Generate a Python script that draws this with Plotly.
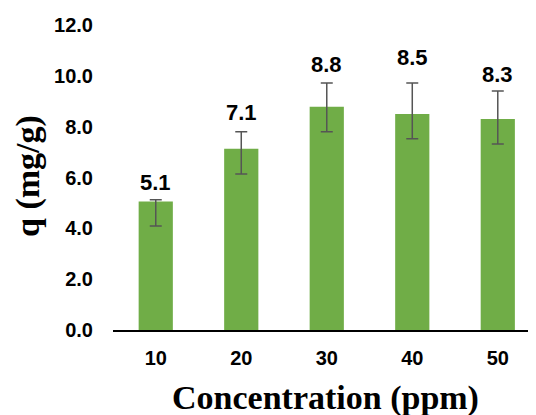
import plotly.graph_objects as go

categories = ["10", "20", "30", "40", "50"]
q_values = [5.06, 7.13, 8.78, 8.5, 8.3]
err_plus = [0.06, 0.67, 0.94, 1.22, 1.1]
err_minus = [0.97, 0.99, 0.98, 0.98, 0.98]
y_ticks = [0, 2, 4, 6, 8, 10, 12]
y_tick_labels = [f"{t:.1f}" for t in y_ticks]
label_shift = [17, 19, 18, 25, 17]

fig = go.Figure()
fig.add_trace(go.Bar(
    x=categories, y=q_values, width=0.4,
    marker=dict(color="#70AD47", line=dict(width=0)),
    error_y=dict(type="data", symmetric=False, array=err_plus, arrayminus=err_minus,
                 color="#555555", thickness=1.5, width=6),
    hoverinfo="skip",
))

for i, (v, ep) in enumerate(zip(q_values, err_plus)):
    fig.add_annotation(x=i, y=v + ep, xref="x", yref="y", text=f"<b>{v:.1f}</b>",
                       showarrow=False, yanchor="middle", yshift=label_shift[i],
                       font=dict(family="Liberation Sans", size=22, color="#000000"))

fig.add_annotation(x=0.5035, y=-0.223, xref="paper", yref="paper",
                   text="<b>Concentration (ppm)</b>", showarrow=False,
                   xanchor="center", yanchor="middle",
                   font=dict(family="Liberation Serif", size=34, color="#000000"))
fig.add_annotation(x=-0.201, y=0.505, xref="paper", yref="paper",
                   text="<b>q (mg/g)</b>", showarrow=False, textangle=-90,
                   xanchor="center", yanchor="middle",
                   font=dict(family="Liberation Serif", size=34, color="#000000"))

fig.update_layout(
    width=528, height=407,
    margin=dict(l=105, r=0, t=17, b=85, autoexpand=False),
    paper_bgcolor="white", plot_bgcolor="white",
    showlegend=False,
    font=dict(family="Liberation Sans", color="#000000"),
)
fig.update_xaxes(
    type="category", range=[-0.5, 4.447], automargin=False,
    showline=True, linecolor="#000000", linewidth=1.5,
    showgrid=False, zeroline=False, ticks="",
    tickfont=dict(family="Liberation Sans", size=20, color="#000000", weight="bold"),
    ticklabelstandoff=9,
)
fig.update_yaxes(
    range=[0, 12], tickvals=y_ticks, ticktext=y_tick_labels, automargin=False,
    showline=False, showgrid=False, zeroline=False, ticks="",
    tickfont=dict(family="Liberation Sans", size=20, color="#000000", weight="bold"),
    ticklabelstandoff=19,
)

fig.write_html("out.html")
